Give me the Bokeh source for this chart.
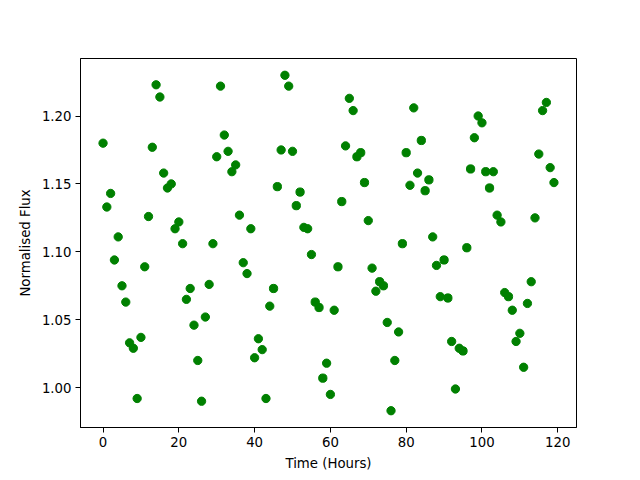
from bokeh.plotting import figure
from bokeh.models import Range1d, FixedTicker, NumeralTickFormatter
from bokeh.embed import file_html
from bokeh.resources import INLINE

time_hours = list(range(120))
flux = [
    1.180, 1.133, 1.143, 1.094, 1.111, 1.075, 1.063, 1.033, 1.029, 0.992,
    1.037, 1.089, 1.126, 1.177, 1.223, 1.214, 1.158, 1.147, 1.150, 1.117,
    1.122, 1.106, 1.065, 1.073, 1.046, 1.020, 0.990, 1.052, 1.076, 1.106,
    1.170, 1.222, 1.186, 1.174, 1.159, 1.164, 1.127, 1.092, 1.084, 1.117,
    1.022, 1.036, 1.028, 0.992, 1.060, 1.073, 1.148, 1.175, 1.230, 1.222,
    1.174, 1.134, 1.144, 1.118, 1.117, 1.098, 1.063, 1.059, 1.007, 1.018,
    0.995, 1.057, 1.089, 1.137, 1.178, 1.213, 1.204, 1.170, 1.173, 1.151,
    1.123, 1.088, 1.071, 1.078, 1.075, 1.048, 0.983, 1.020, 1.041, 1.106,
    1.173, 1.149, 1.206, 1.158, 1.182, 1.145, 1.153, 1.111, 1.090, 1.067,
    1.094, 1.066, 1.034, 0.999, 1.029, 1.027, 1.103, 1.161, 1.184, 1.200,
    1.195, 1.159, 1.147, 1.159, 1.127, 1.122, 1.070, 1.067, 1.057, 1.034,
    1.040, 1.015, 1.062, 1.078, 1.125, 1.172, 1.204, 1.210, 1.162, 1.151,
]
x_ticks = [0, 20, 40, 60, 80, 100, 120]
y_ticks = [1.00, 1.05, 1.10, 1.15, 1.20]

xmin, xmax = min(time_hours), max(time_hours)
ymin, ymax = min(flux), max(flux)
xm = (xmax - xmin) * 0.05
ym = (ymax - ymin) * 0.05

p = figure(width=640, height=480, frame_width=496, frame_height=369,
           output_backend="svg", toolbar_location=None,
           x_range=Range1d(xmin - xm, xmax + xm),
           y_range=Range1d(ymin - ym, ymax + ym),
           min_border_left=80, min_border_right=64,
           min_border_top=58, min_border_bottom=53)
p.background_fill_color = "white"
p.border_fill_color = "white"
p.outline_line_color = "black"
p.outline_line_width = 1
p.grid.visible = False

p.scatter(time_hours, flux, size=8.3, color="green", line_color="green")

font = "DejaVu Sans"
for ax in (p.xaxis[0], p.yaxis[0]):
    ax.major_label_text_font = font
    ax.major_label_text_font_size = "13.3px"
    ax.major_label_text_color = "black"
    ax.axis_label_text_font = font
    ax.axis_label_text_font_size = "13.3px"
    ax.axis_label_text_font_style = "normal"
    ax.axis_label_text_color = "black"
    ax.major_tick_out = 5
    ax.major_tick_in = 0
    ax.minor_tick_out = 0
    ax.minor_tick_in = 0
    ax.axis_line_color = "black"
    ax.major_tick_line_color = "black"

p.xaxis.ticker = FixedTicker(ticks=x_ticks)
p.yaxis.ticker = FixedTicker(ticks=y_ticks)
p.yaxis.formatter = NumeralTickFormatter(format="0.00")
p.xaxis.axis_label = "Time (Hours)"
p.yaxis.axis_label = "Normalised Flux"
p.xaxis.axis_label_standoff = 6
p.yaxis.axis_label_standoff = 6
p.xaxis.major_label_standoff = 4
p.yaxis.major_label_standoff = 4

open("out.html", "w").write(file_html(p, INLINE))
